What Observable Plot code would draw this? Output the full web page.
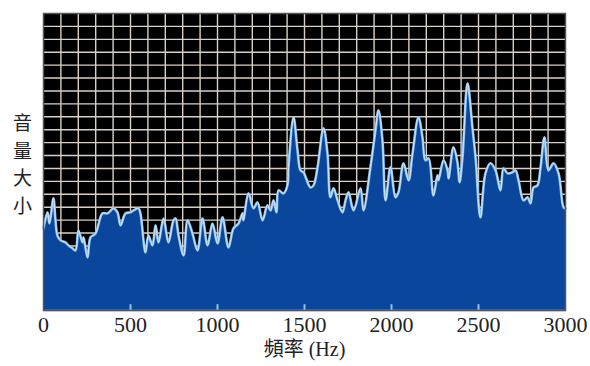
<!DOCTYPE html>
<html>
<head>
<meta charset="utf-8">
<script src="https://cdn.jsdelivr.net/npm/d3@7"></script>
<script src="https://cdn.jsdelivr.net/npm/@observablehq/plot@0.6"></script>
<style>
  html, body { margin: 0; padding: 0; background: #fff; }
  #chart { width: 590px; height: 366px; }
</style>
</head>
<body>
<div id="chart"></div>
<script>
// Frequency (Hz) and loudness (grid units)
const freq = [0, 23, 34, 57, 69, 80, 98, 126, 144, 167, 184, 201, 224, 230, 253, 270, 299, 339, 368, 402, 425, 443, 471, 500, 517, 546, 557, 586, 603, 626, 644, 661, 690, 718, 747, 759, 776, 805, 828, 856, 885, 914, 943, 971, 1000, 1029, 1063, 1092, 1121, 1144, 1149, 1178, 1207, 1230, 1259, 1287, 1305, 1322, 1339, 1351, 1379, 1402, 1408, 1437, 1460, 1477, 1494, 1534, 1552, 1575, 1609, 1632, 1649, 1667, 1690, 1718, 1736, 1753, 1782, 1822, 1839, 1879, 1908, 1925, 1948, 1966, 1994, 2023, 2040, 2069, 2098, 2121, 2155, 2178, 2195, 2213, 2241, 2264, 2270, 2299, 2322, 2328, 2356, 2379, 2391, 2408, 2437, 2465, 2483, 2511, 2540, 2569, 2598, 2626, 2644, 2667, 2695, 2713, 2730, 2759, 2782, 2799, 2816, 2839, 2856, 2879, 2902, 2931, 2960, 2989, 3000];
const amp = [6.36, 7.60, 6.74, 8.68, 6.98, 5.81, 5.43, 5.27, 5.04, 4.81, 4.65, 6.20, 5.27, 5.66, 4.11, 5.66, 5.97, 7.52, 7.52, 7.91, 7.60, 6.59, 7.52, 7.60, 7.75, 7.91, 7.52, 4.50, 5.81, 5.04, 6.59, 5.27, 7.13, 5.27, 6.98, 7.13, 5.81, 4.26, 6.98, 5.97, 4.65, 7.13, 5.04, 6.74, 5.19, 7.21, 4.88, 6.36, 6.74, 7.52, 6.98, 9.07, 7.91, 8.37, 6.98, 8.14, 7.75, 8.53, 7.60, 9.30, 9.07, 9.69, 11.09, 14.96, 12.40, 10.85, 10.70, 9.53, 9.69, 11.09, 14.11, 12.17, 8.76, 9.46, 8.53, 7.60, 8.53, 9.15, 7.75, 9.46, 7.75, 11.09, 13.95, 15.50, 13.18, 8.53, 11.09, 8.76, 9.15, 11.40, 10.08, 12.17, 14.96, 13.41, 11.63, 11.78, 8.91, 10.47, 10.08, 11.63, 10.85, 10.23, 12.64, 11.47, 9.92, 11.86, 17.60, 14.19, 11.86, 7.21, 10.62, 11.40, 10.85, 9.30, 11.01, 10.62, 10.70, 10.85, 10.08, 8.53, 8.76, 8.29, 9.53, 9.69, 11.01, 13.41, 10.85, 11.40, 10.62, 7.98, 7.91];
const xTicks = [0, 500, 1000, 1500, 2000, 2500, 3000];
const xGrid = d3.range(100, 3000, 100);
const yGrid = d3.range(1, 23, 1);
const xLabel = "頻率 (Hz)";
const yLabelChars = ["音", "量", "大", "小"];

const data = freq.map((f, i) => ({f, a: amp[i]}));
const curve = "catmull-rom";

const chart = Plot.plot({
  width: 590,
  height: 366,
  marginLeft: 43,
  marginRight: 25,
  marginTop: 13,
  marginBottom: 56,
  style: {background: "#fff", fontFamily: "'Liberation Serif', 'Noto Sans CJK TC', serif"},
  x: {domain: [0, 3000]},
  y: {domain: [0, 23], axis: null},
  marks: [
    Plot.frame({fill: "#000", stroke: null}),
    Plot.gridX(xGrid, {stroke: "#d8d0c6", strokeOpacity: 1, strokeWidth: 1.4}),
    Plot.gridY(yGrid, {stroke: "#d8d0c6", strokeOpacity: 1, strokeWidth: 1.4}),
    Plot.areaY(data, {x: "f", y: "a", fill: "#0a469b", curve}),
    Plot.line(data, {x: "f", y: "a", stroke: "#86bbea", strokeWidth: 2.6, curve}),
    Plot.line(data, {x: "f", y: "a", stroke: "#e4f2ff", strokeWidth: 0.8, curve}),
    Plot.ruleX(xTicks.slice(1, -1), {y1: 0, y2: 0.45, stroke: "#8cc3ef", strokeWidth: 2}),
    Plot.ruleY([0], {stroke: "#8cc3ef", strokeWidth: 1.5}),
    Plot.frame({stroke: "#555", strokeWidth: 1.5}),
    Plot.axisX(xTicks, {tickSize: 0, tickPadding: 6, fontSize: 22, label: null, fill: "#222", tickFormat: d => String(d)}),
    ...yLabelChars.map((c, i) => Plot.text([c], {
      frameAnchor: "left", dx: -21, dy: -38 + i * 27.6, fontSize: 19,
      textAnchor: "middle", fill: "#222", fontFamily: "'Noto Sans CJK TC', sans-serif"
    })),
    Plot.text([xLabel], {frameAnchor: "bottom", dy: 45, fontSize: 20, fill: "#222"})
  ]
});
document.getElementById("chart").appendChild(chart);
</script>
</body>
</html>
